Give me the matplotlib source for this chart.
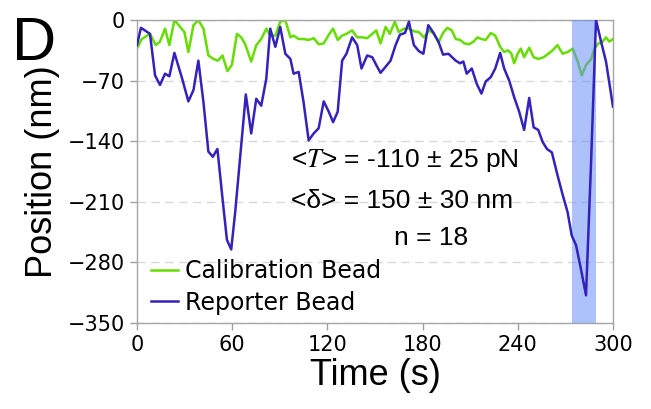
import matplotlib
matplotlib.use('Agg')
from matplotlib import pyplot as plt

# values
t_cal = [0, 3, 8.2, 11.8, 14.5, 17.7, 20.4, 23.6, 27.2, 29.9, 32.4, 35.6, 38.7,
         41.9, 45, 48.2, 51, 53.9, 57, 59.8, 63, 65.7, 68.2, 72, 75.2, 78.3,
         81.5, 84, 87.2, 90.3, 93.5, 96.7, 98.7, 101.9, 105, 108.2, 111.4,
         114.5, 117.7, 120.9, 123.6, 126.5, 129.3, 132, 135.6, 138.8, 141.9,
         145.1, 148.3, 150.8, 153.5, 156.7, 159.4, 162.5, 165, 168.2, 171.4,
         174.5, 177.7, 180.9, 184, 187.2, 190, 192.9, 195.6, 198.4, 200.9,
         203.6, 206.2, 209.3, 212.1, 214.6, 217.1, 219.8, 223, 225.8, 228.9,
         231.4, 233.9, 236, 237.7, 239.9, 241.9, 244, 247.2, 250, 252.9, 256.3,
         259.2, 262, 265, 268.3, 271.4, 274.6, 277.8, 280.3, 283, 286.2, 288.3,
         290.8, 293.5, 295.6, 297.7, 300]
pos_cal = [-33, -22, -16, -29, -25, -10, -29, 0, -8, -14, -37, -6, 0,
           -10, -41, -45, -47, -41, -59, -52, -16, -20, -28, -48, -29, -22,
           -10, -18, -18, -2, 0, -20, -18, -22, -22, -23, -21,
           -28, -27, -17, -10, -23, -18, -16, -12, -20, -20,
           -21, -16, -12, -27, -8, -16, -2, -14, -10, -10,
           -13, -14, -20, -12, -16, -26, -15, -9, -12, -22,
           -23, -27, -28, -25, -20, -22, -23, -15, -18, -31,
           -37, -35, -39, -50, -39, -33, -43, -32, -43, -45, -43,
           -39, -35, -29, -39, -37, -33, -48, -64, -52, -45, -33,
           -27, -25, -20, -25, -22]

t_rep = [0, 2.5, 8.2, 11.4, 14.5, 17.7, 20.4, 23.6, 28.2, 32.4, 35.6, 38.7,
         41.9, 45, 47.8, 50.7, 53.9, 56.7, 59.4, 61.9, 68.6, 72, 75.2, 78.3,
         81.5, 84, 87.2, 90.3, 93.5, 96.7, 98.7, 101.9, 105, 108.2, 111.4,
         114.5, 117.7, 120.9, 123.6, 126.5, 129.3, 132, 135.6, 138.8, 141.5,
         145.1, 148.3, 150.8, 153.5, 156.7, 159.8, 163, 165.7, 168.9, 171.4,
         174.5, 177.7, 180.5, 183.6, 186.6, 190, 192.9, 196.3, 200.9, 203.6,
         205.7, 207.8, 211, 214.2, 217.1, 219.8, 223, 225.8, 228.9, 231.4,
         234.6, 237.7, 240.9, 244, 247.2, 250, 252.9, 255.7, 258.4, 261.5,
         265, 268.3, 271.4, 274, 276.7, 279.4, 283, 286.2, 289.3, 292.5,
         295.6, 300]
pos_rep = [-29, -9, -16, -64, -75, -62, -65, -38, -66, -94, -81, -47,
           -95, -152, -158, -149, -206, -254, -265, -222, -86, -131, -91, -99,
           -68, -10, -31, -8, -39, -45, -62, -60, -95, -139, -131,
           -125, -94, -106, -118, -106, -47, -39, -20, -29, -56,
           -41, -43, -52, -61, -54, -47, -29, -17, -15, -2,
           -29, -36, -39, -6, -14, -25, -40, -39, -47, -50,
           -48, -62, -56, -74, -85, -71, -66, -56, -38, -56,
           -70, -89, -106, -127, -90, -124, -127, -141, -149, -153,
           -179, -202, -222, -249, -260, -284, -318, -164, 0, -25,
           -48, -100]

pulse = (274, 289)
x_ticks = [0, 60, 120, 180, 240, 300]
y_ticks = [0, -70, -140, -210, -280, -350]

plt.rcParams['mathtext.fontset'] = 'stix'

fig = plt.figure(figsize=(6.51, 4.09), dpi=100)
ax = fig.add_axes([0.2104, 0.2103, 0.7312, 0.7408])

ax.plot(t_cal, pos_cal, color='#66dd00', lw=1.8, label='Calibration Bead', zorder=2)
ax.axvspan(pulse[0], pulse[1], color='#6a8ff6', alpha=0.55, lw=0, zorder=3)
ax.plot(t_rep, pos_rep, color='#3322bb', lw=1.8, label='Reporter Bead', zorder=4)

ax.set_xlim(0, 300)
ax.set_ylim(-350, 0)
ax.set_xticks(x_ticks)
ax.set_yticks(y_ticks)
ax.tick_params(labelsize=15, color='#a0a0a0', length=5, width=1)
ax.yaxis.grid(True, color='#d9d9d9', ls=(0, (6, 4)), lw=1)
ax.set_axisbelow(True)
for s in ax.spines.values():
    s.set_color('#a6a6a6')
    s.set_linewidth(1)

ax.set_xlabel('Time (s)', fontsize=26, family='Liberation Sans', labelpad=2)
ax.set_ylabel('Position (nm)', fontsize=26, family='Liberation Sans', labelpad=6)

leg = ax.legend(loc='lower left', bbox_to_anchor=(0.03, 0.028), frameon=False,
                fontsize=17, handlelength=1.15, handletextpad=0.3,
                labelspacing=0.3, borderpad=0, borderaxespad=0)

txt = dict(fontsize=19, family='Liberation Sans', ha='center', va='center')
fig.text(405 / 651, 1 - 161 / 409, r'<$T$> = -110 ± 25 pN', **txt)
fig.text(402 / 651, 1 - 201 / 409, '<δ> = 150 ± 30 nm', **txt)
fig.text(431 / 651, 1 - 238 / 409, 'n = 18', **txt)
fig.text(34 / 651, 1 - 44 / 409, 'D', fontsize=44, family='Liberation Sans',
         ha='center', va='center')

fig.savefig('out.png', dpi=100)
